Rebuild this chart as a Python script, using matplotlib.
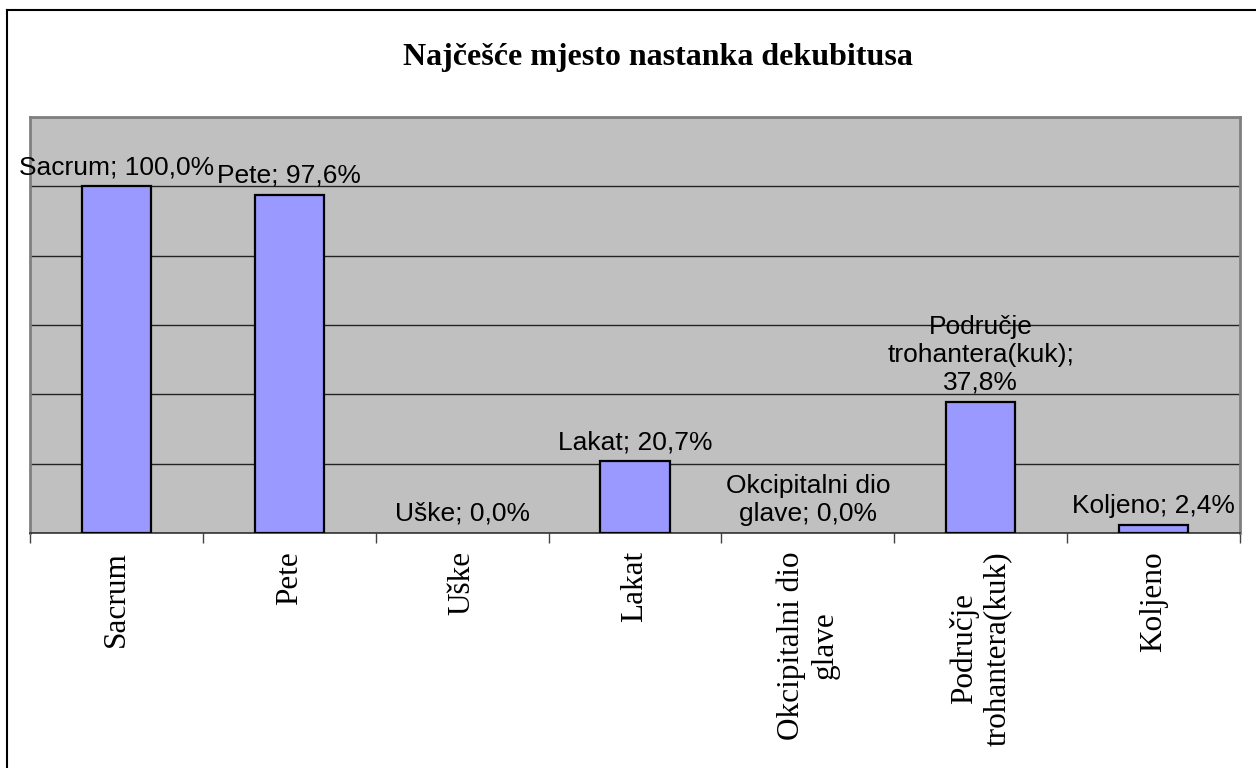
import matplotlib.pyplot as plt
from matplotlib.lines import Line2D
import numpy as np

# podaci
kategorije = ["Sacrum", "Pete", "Uške", "Lakat", "Okcipitalni dio\nglave",
              "Područje\ntrohantera(kuk)", "Koljeno"]
oznake = ["Sacrum; 100,0%", "Pete; 97,6%", "Uške; 0,0%", "Lakat; 20,7%",
          "Okcipitalni dio\nglave; 0,0%", "Područje\ntrohantera(kuk);\n37,8%",
          "Koljeno; 2,4%"]
vrijednosti = [1.000, 0.976, 0.000, 0.207, 0.000, 0.378, 0.024]

W, H = 1256, 768
fig = plt.figure(figsize=(W / 100, H / 100), dpi=100)
ax = fig.add_axes([30 / W, 1 - 533 / H, (1240 - 30) / W, (533 - 117) / H])

x = np.arange(len(kategorije))
ax.set_facecolor("#C0C0C0")
# stupci s vrijednosti 0 se ne crtaju
rubovi = [1.6 if v > 0 else 0 for v in vrijednosti]
ax.bar(x, vrijednosti, width=0.4, color="#9999FF", edgecolor="black",
       linewidth=rubovi, zorder=3)

ax.set_xlim(-0.5, len(kategorije) - 0.5)
ax.set_ylim(0, 1.2)
ax.set_yticks(np.arange(0, 1.21, 0.2))
ax.yaxis.grid(True, color="#222222", linewidth=1.0, zorder=1)
ax.tick_params(axis="y", left=False, labelleft=False)

# tickovi na granicama kategorija
ax.set_xticks(np.arange(-0.5, len(kategorije), 1.0), minor=False)
ax.set_xticklabels([])
ax.tick_params(axis="x", which="major", direction="out", length=7.5,
               width=1, color="#444444")
ax.set_xticks(x, minor=True)
ax.set_xticklabels(kategorije, minor=True, rotation=90, fontsize=22.5,
                   family="Liberation Serif", va="top", ha="center",
                   multialignment="center")
ax.tick_params(axis="x", which="minor", length=0, pad=13)

for s in ["top", "right", "left"]:
    ax.spines[s].set_color("#808080")
    ax.spines[s].set_linewidth(2)
ax.spines["bottom"].set_color("#333333")
ax.spines["bottom"].set_linewidth(1.2)

for xi, v, t in zip(x, vrijednosti, oznake):
    ax.annotate(t, (xi, v), xytext=(0, 7), textcoords="offset pixels",
                ha="center", va="bottom", fontsize=19,
                family="Liberation Sans", multialignment="center", zorder=4)

fig.text(658 / W, 1 - 57 / H, "Najčešće mjesto nastanka dekubitusa",
         ha="center", va="center", fontsize=23, fontweight="bold",
         family="Liberation Serif")

# okvir grafikona
fig.add_artist(Line2D([7 / W, 7 / W], [0, 1 - 10 / H], color="black", lw=1.5,
                      transform=fig.transFigure))
fig.add_artist(Line2D([7 / W, 1], [1 - 10 / H, 1 - 10 / H], color="black",
                      lw=1.5, transform=fig.transFigure))

fig.savefig("out.png", dpi=100)
